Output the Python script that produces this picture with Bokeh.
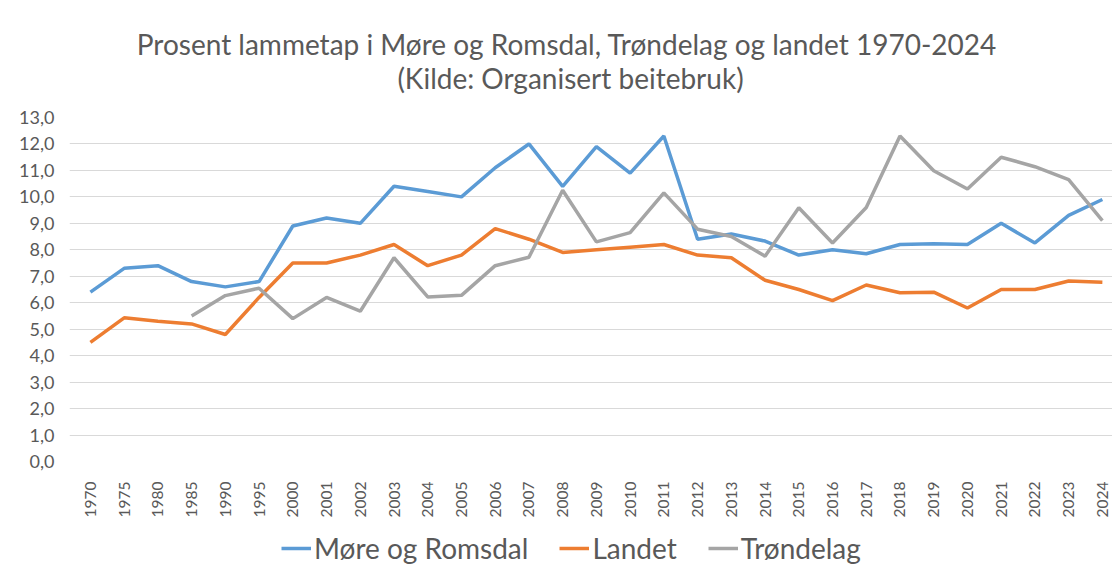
import math
from bokeh.plotting import figure
from bokeh.layouts import column
from bokeh.models import Range1d, FixedTicker, Legend, LegendItem, Label
from bokeh.embed import file_html
from bokeh.resources import INLINE

years = ["1970", "1975", "1980", "1985", "1990", "1995", "2000", "2001", "2002", "2003",
         "2004", "2005", "2006", "2007", "2008", "2009", "2010", "2011", "2012", "2013",
         "2014", "2015", "2016", "2017", "2018", "2019", "2020", "2021", "2022", "2023", "2024"]

more_og_romsdal = [6.4, 7.3, 7.4, 6.8, 6.6, 6.8, 8.9, 9.2, 9.0, 10.4, 10.2, 10.0, 11.1, 12.0,
                   10.4, 11.9, 10.9, 12.3, 8.4, 8.6, 8.33, 7.8, 8.0, 7.85, 8.2, 8.23, 8.2,
                   9.0, 8.26, 9.3, 9.9]
landet = [4.5, 5.43, 5.3, 5.2, 4.8, 6.2, 7.5, 7.5, 7.8, 8.2, 7.4, 7.8, 8.8, 8.4, 7.9, 8.0,
          8.1, 8.2, 7.8, 7.7, 6.85, 6.5, 6.08, 6.67, 6.38, 6.4, 5.8, 6.5, 6.5, 6.82, 6.77]
trondelag = [math.nan, math.nan, math.nan, 5.5, 6.27, 6.55, 5.4, 6.2, 5.68, 7.7, 6.22, 6.28,
             7.4, 7.72, 10.25, 8.3, 8.65, 10.15, 8.78, 8.5, 7.76, 9.59, 8.26, 9.6, 12.3,
             10.99, 10.3, 11.5, 11.14, 10.65, 9.1]

series_names = ["Møre og Romsdal", "Landet", "Trøndelag"]
series_colors = ["#5B9BD5", "#ED7D31", "#A5A5A5"]

y_ticks = list(range(0, 14))
y_tick_labels = [f"{v},0" for v in y_ticks]

title_lines = ["Prosent lammetap i Møre og Romsdal, Trøndelag  og landet 1970-2024",
               "(Kilde: Organisert beitebruk)"]

FONT = "Lato"
TXT = "#595959"
LW = 3.5
LEFT = 69          # frame left edge (px)
TITLE_H = 107      # height of the title strip (px)

x_idx = list(range(len(years)))

# ---- title strip ----
tf = figure(width=1112, height=TITLE_H, output_backend="svg", toolbar_location=None,
            x_axis_type=None, y_axis_type=None,
            x_range=Range1d(0, 1), y_range=Range1d(0, 1),
            min_border_left=LEFT, min_border_right=0, min_border_top=0, min_border_bottom=0)
tf.grid.visible = False
tf.outline_line_color = None
for txt, yc in zip(title_lines, [43, 77]):
    tf.add_layout(Label(x=570 - LEFT, y=TITLE_H - yc, x_units="screen", y_units="screen",
                        text=txt, text_align="center", text_baseline="middle",
                        text_font=FONT, text_font_size="28px", text_color=TXT))

# ---- main chart ----
p = figure(width=1112, height=413, output_backend="svg", toolbar_location=None,
           x_range=Range1d(-0.62, len(years) - 1 + 0.3), y_range=Range1d(0, 13),
           min_border_left=LEFT, min_border_right=0, min_border_top=10, min_border_bottom=0)

p.outline_line_color = None
p.background_fill_color = "white"
p.border_fill_color = "white"

p.xgrid.grid_line_color = None
p.ygrid.grid_line_color = "#D9D9D9"
p.ygrid.grid_line_width = 1

p.yaxis.ticker = FixedTicker(ticks=y_ticks)
p.yaxis.major_label_overrides = {t: l for t, l in zip(y_ticks, y_tick_labels)}
p.yaxis.axis_line_color = None
p.yaxis.major_tick_line_color = None
p.yaxis.minor_tick_line_color = None
p.yaxis.major_label_text_font = FONT
p.yaxis.major_label_text_font_size = "18px"
p.yaxis.major_label_text_color = TXT
p.yaxis.major_label_standoff = 9

p.xaxis.ticker = FixedTicker(ticks=x_idx)
p.xaxis.major_label_overrides = {i: y for i, y in zip(x_idx, years)}
p.xaxis.axis_line_color = None
p.xaxis.major_tick_line_color = None
p.xaxis.minor_tick_line_color = None
p.xaxis.major_label_orientation = math.pi / 2
p.xaxis.major_label_text_font = FONT
p.xaxis.major_label_text_font_size = "15.5px"
p.xaxis.major_label_text_color = TXT
p.xaxis.major_label_standoff = 14

for vals, col in zip([more_og_romsdal, landet, trondelag], series_colors):
    p.line(x_idx, vals, line_color=col, line_width=LW)

# ---- legend strip ----
lg = figure(width=1112, height=45, output_backend="svg", toolbar_location=None,
            x_axis_type=None, y_axis_type=None,
            x_range=Range1d(0, 1), y_range=Range1d(0, 1),
            min_border_left=LEFT, min_border_right=0, min_border_top=0, min_border_bottom=0)
lg.grid.visible = False
lg.outline_line_color = None
items = []
for vals, name, col in zip([more_og_romsdal, landet, trondelag], series_names, series_colors):
    r = lg.line(x_idx, vals, line_color=col, line_width=LW, visible=False)
    items.append(LegendItem(label=name, renderers=[r]))
legend = Legend(items=items, orientation="horizontal", location=(281 - LEFT, 0))
legend.label_text_font = FONT
legend.label_text_font_size = "28px"
legend.label_text_color = TXT
legend.glyph_width = 30
legend.label_standoff = 3
legend.spacing = 31
legend.border_line_color = None
legend.background_fill_alpha = 0
legend.inactive_fill_alpha = 0
legend.padding = 0
legend.margin = 0
lg.add_layout(legend)

layout = column(tf, p, lg, spacing=0)
open("out.html", "w").write(file_html(layout, INLINE))
